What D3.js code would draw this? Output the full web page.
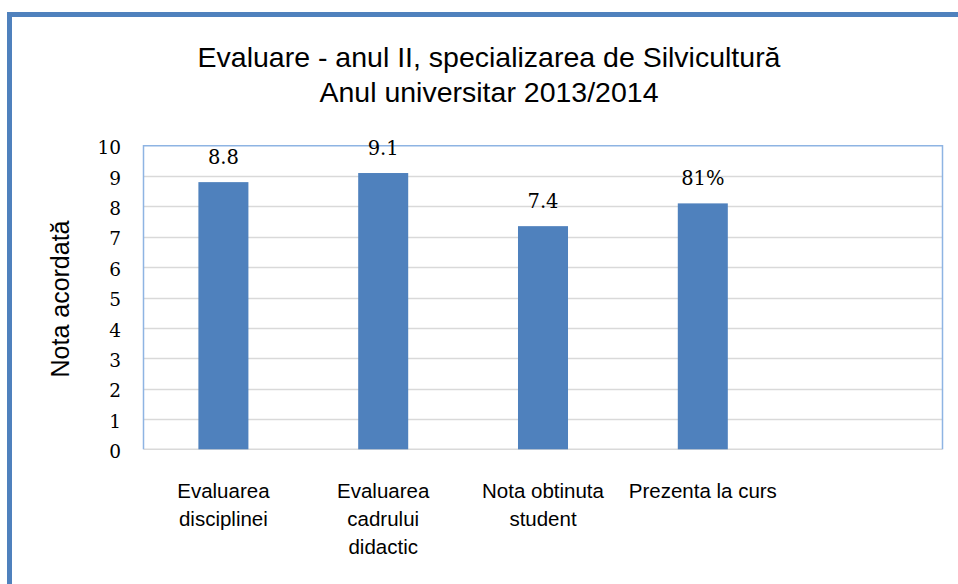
<!DOCTYPE html>
<html>
<head>
<meta charset="utf-8">
<script src="https://cdn.jsdelivr.net/npm/d3@7"></script>
<style>
  html, body { margin: 0; padding: 0; background: #fff; }
  svg { display: block; }
</style>
</head>
<body>
<div id="chart"></div>
<script>
const categories = ["Evaluarea disciplinei", "Evaluarea cadrului didactic", "Nota obtinuta student", "Prezenta la curs", ""];
const categoryLines = [["Evaluarea", "disciplinei"], ["Evaluarea", "cadrului", "didactic"], ["Nota obtinuta", "student"], ["Prezenta la curs"], []];
const values = [8.8, 9.1, 7.35, 8.1];
const valueLabels = ["8.8", "9.1", "7.4", "81%"];
const yTicks = [0, 1, 2, 3, 4, 5, 6, 7, 8, 9, 10];
const titleLines = ["Evaluare - anul II, specializarea de Silvicultură", "Anul universitar 2013/2014"];
const yTitle = "Nota acordată";

const width = 958, height = 584;
const plot = { left: 143.5, right: 942.5, top: 145.7, bottom: 449.3 };
const sans = "'Liberation Sans', Arial, sans-serif";
const serif = "'DejaVu Serif', serif";
const blue = "#4f81bd";

const svg = d3.select("#chart").append("svg")
  .attr("width", width)
  .attr("height", height);

// outer frame (top and left edge visible)
svg.append("path")
  .attr("d", `M9.5,${height} V14.5 H${width}`)
  .attr("fill", "none")
  .attr("stroke", blue)
  .attr("stroke-width", 5);

const x = d3.scaleBand()
  .domain(categories)
  .range([plot.left, plot.right])
  .paddingInner(0.687)
  .paddingOuter(0.3435);

const y = d3.scaleLinear()
  .domain([0, 10])
  .range([plot.bottom, plot.top]);

// gridlines
svg.append("g")
  .selectAll("line")
  .data(yTicks.filter((d) => d > 0 && d < 10))
  .enter()
  .append("line")
  .attr("x1", plot.left)
  .attr("x2", plot.right)
  .attr("y1", (d) => Math.round(y(d)) + 0.5)
  .attr("y2", (d) => Math.round(y(d)) + 0.5)
  .attr("stroke", "#d9d9d9")
  .attr("stroke-width", 1.5);

// bottom axis line
svg.append("line")
  .attr("x1", plot.left)
  .attr("x2", plot.right)
  .attr("y1", y(0))
  .attr("y2", y(0))
  .attr("stroke", "#d9d9d9")
  .attr("stroke-width", 1.5);

// plot border left/top/right
svg.append("path")
  .attr("d", `M${plot.left},${y(0)} V${y(10)} H${plot.right} V${y(0)}`)
  .attr("fill", "none")
  .attr("stroke", "#8eb4e3")
  .attr("stroke-width", 1.5);

// bars
svg.append("g")
  .selectAll("rect")
  .data(values)
  .enter()
  .append("rect")
  .attr("x", (d, i) => x(categories[i]))
  .attr("width", x.bandwidth())
  .attr("y", (d) => y(d))
  .attr("height", (d) => y(0) - y(d))
  .attr("fill", blue);

// value labels
svg.append("g")
  .selectAll("text")
  .data(values)
  .enter()
  .append("text")
  .attr("x", (d, i) => x(categories[i]) + x.bandwidth() / 2)
  .attr("y", (d) => y(d) - 18)
  .attr("text-anchor", "middle")
  .style("font-family", serif)
  .style("font-size", "19.5px")
  .attr("fill", "#000")
  .text((d, i) => valueLabels[i]);

// y axis tick labels
svg.append("g")
  .selectAll("text")
  .data(yTicks)
  .enter()
  .append("text")
  .attr("x", 121)
  .attr("y", (d) => y(d))
  .attr("dy", "0.47em")
  .attr("text-anchor", "end")
  .style("font-family", serif)
  .style("font-size", "18.5px")
  .attr("fill", "#000")
  .text((d) => d);

// category labels
const cat = svg.append("g")
  .selectAll("text")
  .data(categories)
  .enter()
  .append("text")
  .attr("text-anchor", "middle")
  .style("font-family", sans)
  .style("font-size", "20.5px")
  .attr("fill", "#000");

cat.selectAll("tspan")
  .data((d, i) => categoryLines[i].map((t) => ({ t, c: d })))
  .enter()
  .append("tspan")
  .attr("x", (d) => x(d.c) + x.bandwidth() / 2)
  .attr("y", (d, j) => 498 + j * 28)
  .text((d) => d.t);

// y axis title
svg.append("text")
  .attr("transform", "translate(69,299) rotate(-90)")
  .attr("text-anchor", "middle")
  .style("font-family", sans)
  .style("font-size", "25px")
  .attr("fill", "#000")
  .text(yTitle);

// chart title
svg.append("g")
  .selectAll("text")
  .data(titleLines)
  .enter()
  .append("text")
  .attr("x", 489)
  .attr("y", (d, i) => 67 + i * 35)
  .attr("text-anchor", "middle")
  .style("font-family", sans)
  .style("font-size", "28.5px")
  .attr("fill", "#000")
  .text((d) => d);
</script>
</body>
</html>
